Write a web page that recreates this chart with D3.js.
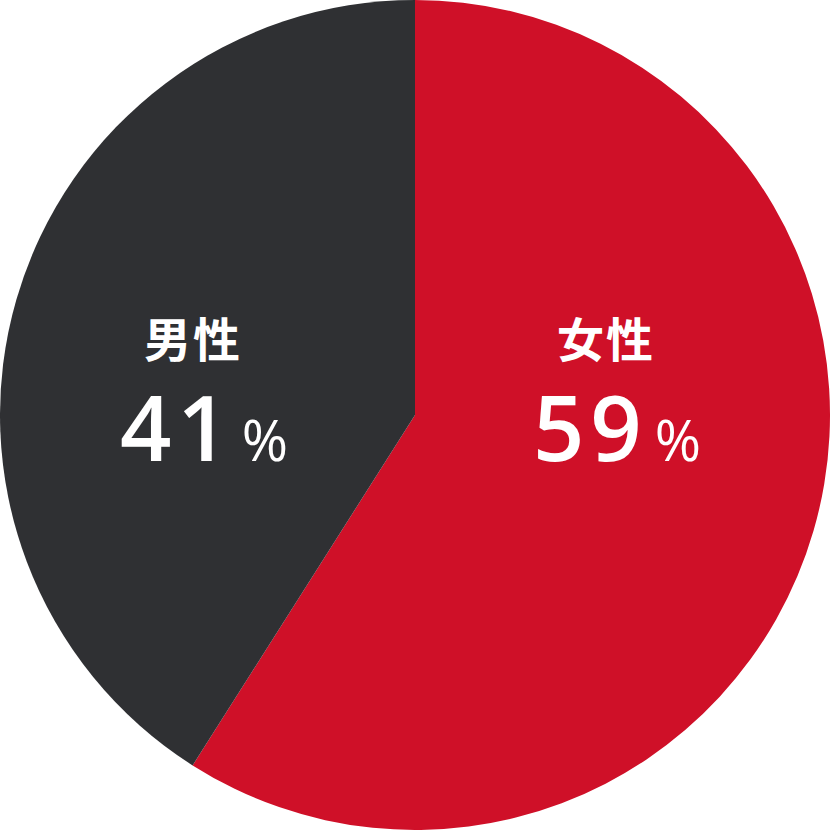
<!DOCTYPE html>
<html>
<head>
<meta charset="utf-8">
<script src="https://cdn.jsdelivr.net/npm/d3@7"></script>
<style>
  html, body { margin: 0; padding: 0; background: #fff; }
  svg { display: block; }
</style>
</head>
<body>
<div id="chart"></div>
<script>
// data
var categories = ["女性", "男性"];
var values     = [59, 41];
var colors     = ["#cf1028", "#2f3033"];

var W = 830, H = 830;
var cx = 415, cy = 415, R = 415;

var svg = d3.select("#chart").append("svg")
    .attr("width", W)
    .attr("height", H);

var g = svg.append("g")
    .attr("transform", "translate(" + cx + "," + cy + ")");

var pie = d3.pie().sort(null).value(function (d) { return d.value; });
var arc = d3.arc().innerRadius(0).outerRadius(R);

var data = categories.map(function (c, i) {
  return { name: c, value: values[i], color: colors[i] };
});
var arcs = pie(data);

g.selectAll("path.slice")
    .data(arcs)
  .enter().append("path")
    .attr("class", "slice")
    .attr("d", arc)
    .attr("fill", function (d) { return d.data.color; });

// label positions, tuned to the reference
var labelPos = [[606, 337], [193, 337]];
var numPos   = [[617, 337], [204, 337]];

var lbl = svg.selectAll("g.lbl")
    .data(arcs)
  .enter().append("g")
    .attr("class", "lbl")
    .attr("fill", "#fff")
    .style("text-anchor", "middle");

lbl.append("text")
    .attr("x", function (d, i) { return labelPos[i][0]; })
    .attr("y", function (d, i) { return labelPos[i][1] + 20; })
    .style("font-family", "'Noto Sans CJK JP', sans-serif")
    .style("font-weight", "700")
    .style("font-size", "47px")
    .style("letter-spacing", "2px")
    .text(function (d) { return d.data.name; });

var pct = lbl.append("text")
    .attr("x", function (d, i) { return numPos[i][0]; })
    .attr("y", function (d, i) { return numPos[i][1] + 124; })
    .style("font-family", "'Open Sans', sans-serif")
    .style("font-weight", "600");

pct.append("tspan")
    .style("font-size", "90px")
    .style("letter-spacing", "6px")
    .text(function (d) { return d.data.value; });

pct.append("tspan")
    .style("font-size", "56px")
    .style("font-weight", "500")
    .attr("dx", 7)
    .text("%");
</script>
</body>
</html>
